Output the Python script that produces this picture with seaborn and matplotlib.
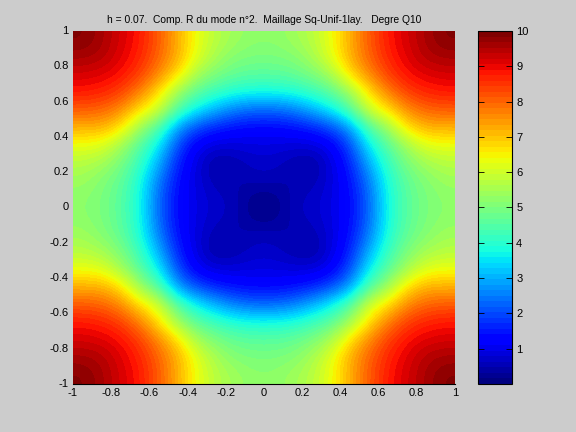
import matplotlib

matplotlib.use("Agg")
import matplotlib.pyplot as plt
import numpy as np
import seaborn as sns

# upper left quarter of the map, cells centred on x = -0.95..-0.05, y = 0.95..0.05
quarter = [
    [9.9, 9.6, 9.2, 8.8, 8.1, 7.2, 6.3, 5.7, 5.4, 5.2],
    [9.6, 9.5, 9.1, 8.7, 8.0, 7.2, 6.2, 5.5, 5.1, 5.0],
    [9.2, 9.1, 8.9, 8.4, 7.6, 6.7, 5.5, 5.0, 4.7, 4.6],
    [8.8, 8.7, 8.4, 7.7, 6.7, 5.4, 4.6, 4.2, 3.9, 3.8],
    [8.1, 8.0, 7.6, 6.7, 6.0, 4.5, 3.6, 3.0, 2.5, 2.3],
    [7.2, 7.2, 6.7, 5.4, 4.5, 2.8, 2.0, 1.6, 1.4, 1.3],
    [6.3, 6.2, 5.5, 4.6, 3.6, 2.0, 1.1, 0.85, 0.85, 0.9],
    [5.7, 5.5, 5.0, 4.2, 3.0, 1.6, 0.85, 0.35, 0.5, 0.7],
    [5.4, 5.1, 4.7, 3.9, 2.5, 1.4, 0.85, 0.5, 0.45, 0.55],
    [5.2, 5.0, 4.6, 3.8, 2.3, 1.3, 0.9, 0.7, 0.55, 0.15],
]
x_ticks = [-1, -0.8, -0.6, -0.4, -0.2, 0, 0.2, 0.4, 0.6, 0.8, 1]
y_ticks = [1, 0.8, 0.6, 0.4, 0.2, 0, -0.2, -0.4, -0.6, -0.8, -1]
x_labels = ["-1", "-0.8", "-0.6", "-0.4", "-0.2", "0", "0.2", "0.4", "0.6", "0.8", "1"]
y_labels = ["1", "0.8", "0.6", "0.4", "0.2", "0", "-0.2", "-0.4", "-0.6", "-0.8", "-1"]
cbar_ticks = [1, 2, 3, 4, 5, 6, 7, 8, 9, 10]
title = "h = 0.07.  Comp. R du mode n°2.  Maillage Sq-Unif-1lay.   Degre Q10"

# the map is symmetric, so mirror the quarter
top = np.array(quarter)
values = np.vstack([np.hstack([top, top[:, ::-1]]), np.hstack([top[::-1], top[::-1, ::-1]])])
n = values.shape[0]

plt.rcParams["font.family"] = ["Liberation Sans", "DejaVu Sans"]
cmap = plt.get_cmap("jet", 64)

W, H = 576, 432
fig = plt.figure(figsize=(W / 100, H / 100), dpi=100, facecolor="#cccccc")
ax = fig.add_axes([73 / W, 1 - 384 / H, 382 / W, 353 / H])
cax = fig.add_axes([478 / W, 1 - 384 / H, 34 / W, 353 / H])

sns.heatmap(values, ax=ax, cbar_ax=cax, cmap=cmap, vmin=0, vmax=10, cbar_kws={"ticks": cbar_ticks})

# smooth the cells like the shaded original
ax.imshow(values, cmap=cmap, vmin=0, vmax=10, extent=(0, n, n, 0), aspect="auto",
          interpolation="bicubic", interpolation_stage="data", zorder=3)

ax.set_xticks([(t + 1) / 2 * n for t in x_ticks])
ax.set_xticklabels(x_labels, rotation=0)
ax.set_yticks([(1 - t) / 2 * n for t in y_ticks])
ax.set_yticklabels(y_labels, rotation=0)
ax.tick_params(length=0, labelsize=8, pad=3)
ax.spines["bottom"].set_visible(True)
ax.spines["bottom"].set_linewidth(0.8)
ax.spines["bottom"].set_zorder(5)
ax.set_title(title, fontsize=7.4, pad=6)

cax.tick_params(direction="in", length=4, width=0.6, labelsize=8, pad=3, left=True, right=True, color="black")
cbar = ax.collections[0].colorbar
cbar.outline.set_visible(True)
cbar.outline.set_edgecolor("black")
cbar.outline.set_linewidth(0.8)

plt.savefig("out.png", dpi=100, facecolor=fig.get_facecolor())
